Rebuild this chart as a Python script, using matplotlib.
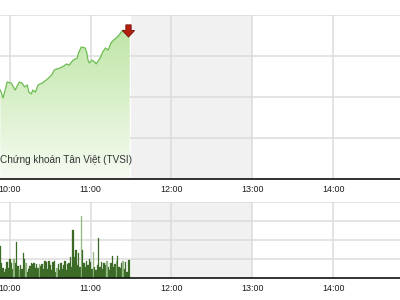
import numpy as np
import matplotlib
matplotlib.use('Agg')
from matplotlib import pyplot as plt
from matplotlib.path import Path
from matplotlib.patches import Polygon

plt.rcParams['font.family'] = ['Liberation Sans', 'DejaVu Sans']

# phut tinh tu 9:00
gio = [53, 55, 58, 61, 64, 67, 69, 71, 73, 74, 76, 77, 79, 81, 84, 86, 88, 91, 93, 95,
       97, 100, 102, 104, 107, 110, 111, 113, 116, 117, 118, 119, 121, 123, 124, 127,
       129, 131, 133, 135, 137, 139, 141, 144, 146, 148, 149]
gia = [560.34, 559.95, 560.73, 560.68, 560.34, 560.73, 560.68, 560.49, 560.59, 560.24,
       560.15, 560.34, 560.24, 560.59, 560.68, 560.78, 560.88, 561.07, 561.32, 561.37,
       561.41, 561.51, 561.61, 561.56, 561.80, 561.90, 562.15, 562.44, 562.39, 562.20,
       561.80, 561.66, 561.80, 561.71, 561.61, 561.90, 562.20, 562.39, 562.29, 562.63,
       562.78, 562.88, 563.02, 563.27, 563.12, 563.02, 563.12]

# khoi luong tung phut, 9:53 -> 11:29
phut_kl = list(range(53, 150))
kl = [1.7, 0.8, 0.55, 0.3, 0.5, 0.85, 0.55, 1.0, 0.8, 0.5,
      1.0, 0.8, 1.9, 0.65, 0.4, 0.7, 0.5, 1.3, 1.0, 0.8,
      0.3, 0.5, 0.65, 0.8, 0.75, 0.8, 0.55, 0.75, 0.55, 0.75,
      0.65, 0.75, 0.5, 0.9, 0.85, 0.5, 0.9, 0.7, 0.4, 0.85,
      0.9, 0.3, 0.55, 0.75, 0.4, 0.8, 0.5, 0.7, 0.9, 0.4,
      0.75, 0.8, 1.1, 0.6, 2.55, 1.1, 1.45, 0.7, 1.3, 0.6,
      3.25, 1.45, 0.8, 0.6, 0.9, 0.7, 1.0, 0.85, 0.5, 1.35,
      0.6, 0.4, 0.7, 2.1, 0.6, 0.85, 0.5, 0.8, 0.7, 0.9,
      0.6, 0.4, 0.8, 1.15, 0.6, 0.75, 0.9, 1.15, 0.6, 0.55,
      0.8, 0.9, 0.5, 0.85, 0.3, 0.95, 0.95]
phut_giam = [63, 67, 72, 82, 95, 113, 122, 132, 139, 144]

nhan_gio = ['10:00', '11:00', '12:00', '13:00', '14:00']
vi_tri_gio = [60, 120, 180, 240, 300]

fig = plt.figure(figsize=(4, 3), dpi=100)
# truc rong hon khung hinh: 9:00 va 15:00 nam ngoai
ax = fig.add_axes([-0.1775, 0.4033, 1.2125, 0.5467])
ax2 = fig.add_axes([-0.1775, 0.0733, 1.2125, 0.2533])

for a in (ax, ax2):
    a.set_xlim(0, 360)
    a.axvspan(150, 240, color='#f1f1f1', zorder=0, lw=0)
    a.set_axisbelow(True)
    a.grid(True, color='#dcdcdc', lw=1.1)
    a.set_xticks(vi_tri_gio)
    a.set_xticklabels(nhan_gio, fontsize=6.4, color='#1a1a1a')
    a.tick_params(axis='x', length=0, pad=4)
    a.tick_params(axis='y', length=0, labelleft=False)
    for s in ('left', 'right', 'top'):
        a.spines[s].set_visible(False)
    a.spines['bottom'].set_color('#111111')
    a.spines['bottom'].set_linewidth(1.2)

ax.set_ylim(556, 564)
ax.set_yticks([556, 558, 560, 562, 564])
ax2.set_ylim(0, 4)
ax2.set_yticks([1, 2, 3, 4])

# vung to mau duoi duong gia
poly = Polygon(list(zip(gio, gia)) + [(gio[-1], 556), (gio[0], 556)], closed=True,
               facecolor='none', edgecolor='none')
ax.add_patch(poly)
grad = np.linspace(1, 0, 256).reshape(-1, 1)
cmap = matplotlib.colors.LinearSegmentedColormap.from_list('xanh', ['#f6fbf2', '#bde5a4'])
im = ax.imshow(grad, extent=[gio[0], gio[-1], 556, 563.6], aspect='auto', cmap=cmap,
               origin='upper', zorder=1)
im.set_clip_path(poly)
ax.plot(gio, gia, color='#6dbd52', lw=0.9, zorder=3)

# mui ten do o diem cuoi
mui_ten = Path([(-0.35, 1.0), (0.35, 1.0), (0.35, 0.25), (0.8, 0.25), (0.0, -0.6),
                (-0.8, 0.25), (-0.35, 0.25), (-0.35, 1.0)], closed=True)
ax.plot(gio[-1] - 1.5, gia[-1] + 0.05, marker=mui_ten, markersize=11, color='#b3200f',
        markeredgecolor='#7a1008', markeredgewidth=0.6, zorder=4)

ax.text(150.5, 556.95, 'Chứng khoán Tân Việt (TVSI)', ha='right', va='center',
        fontsize=7.2, color='#333333', zorder=4)

mau = ['#93b884' if p in phut_giam else '#3b6b27' for p in phut_kl]
ax2.bar(phut_kl, kl, width=1.0, color=mau, edgecolor=mau, lw=0.2, align='center', zorder=2)

fig.savefig('out.png', dpi=100)
